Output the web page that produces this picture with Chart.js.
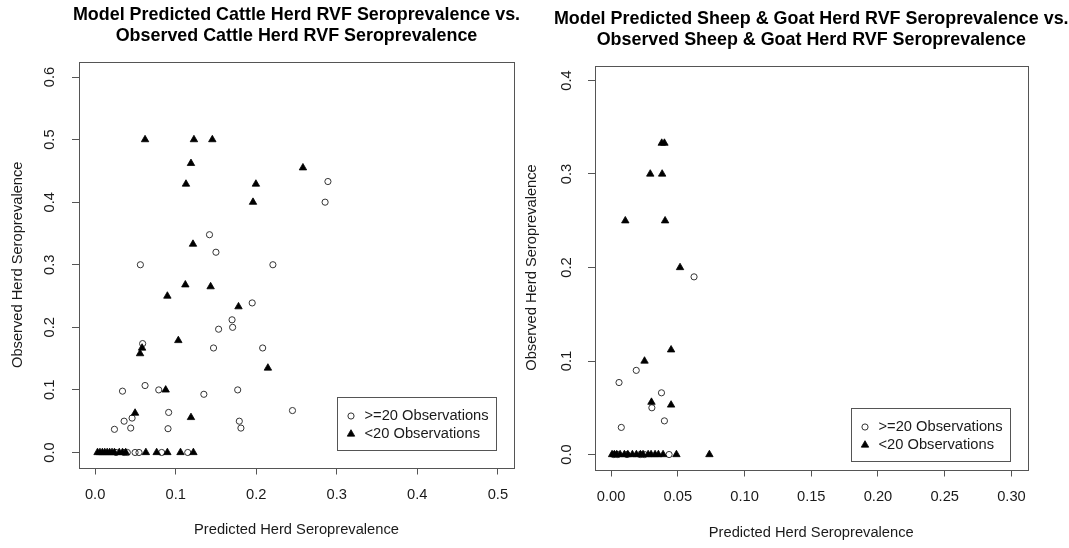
<!DOCTYPE html>
<html>
<head>
<meta charset="utf-8">
<title>RVF seroprevalence: predicted vs observed</title>
<script src="https://cdn.jsdelivr.net/npm/chart.js@4.4.1/dist/chart.umd.min.js"></script>
<style>
  body { margin: 0; background: #fff; }
  #wrap { position: relative; width: 1069px; height: 548px; }
  canvas { position: absolute; top: 0; }
</style>
</head>
<body>
<div id="wrap">
  <canvas id="cattle" width="525" height="548" style="left:0"></canvas>
  <canvas id="sheep" width="549" height="548" style="left:520px"></canvas>
</div>
<script>
// series labels
const seriesLabels = [">=20 Observations", "<20 Observations"];

// cattle herds, >=20 observations (open circles)
const cattleBigX = [0.289, 0.2855, 0.142, 0.150, 0.0562, 0.2207, 0.195, 0.170, 0.1707, 0.1533,
  0.059, 0.147, 0.208, 0.062, 0.034, 0.079, 0.135, 0.177, 0.245, 0.0913,
  0.0459, 0.036, 0.179, 0.0442, 0.0905, 0.181, 0.024,
  0.026, 0.036, 0.040, 0.0496, 0.0545, 0.0826, 0.115];
const cattleBigY = [0.433, 0.400, 0.348, 0.320, 0.300, 0.300, 0.239, 0.212, 0.200, 0.197,
  0.174, 0.167, 0.167, 0.107, 0.098, 0.100, 0.093, 0.100, 0.067, 0.064,
  0.055, 0.050, 0.050, 0.039, 0.038, 0.039, 0.037,
  0, 0, 0, 0, 0, 0, 0];

// cattle herds, <20 observations (filled triangles)
const cattleSmallX = [0.062, 0.1227, 0.1455, 0.119, 0.258, 0.1128, 0.1996, 0.196, 0.1215, 0.112,
  0.1434, 0.0897, 0.178, 0.1033, 0.0583, 0.0558, 0.0876, 0.0496, 0.119, 0.2145,
  0.003, 0.006, 0.009, 0.012, 0.015, 0.018, 0.021, 0.024, 0.030, 0.034,
  0.038, 0.063, 0.0764, 0.0897, 0.106, 0.122];
const cattleSmallY = [0.5, 0.5, 0.5, 0.462, 0.455, 0.429, 0.429, 0.4, 0.333, 0.268,
  0.265, 0.25, 0.233, 0.179, 0.167, 0.158, 0.1, 0.063, 0.056, 0.135,
  0, 0, 0, 0, 0, 0, 0, 0, 0, 0,
  0, 0, 0, 0, 0, 0];

// sheep & goat herds, >=20 observations
const sheepBigX = [0.0622, 0.006, 0.0189, 0.0378, 0.0306, 0.040, 0.0077, 0.0435,
  0.002, 0.005, 0.012, 0.022, 0.025];
const sheepBigY = [0.19, 0.077, 0.090, 0.066, 0.05, 0.036, 0.029, 0,
  0, 0, 0, 0, 0];

// sheep & goat herds, <20 observations
const sheepSmallX = [0.038, 0.040, 0.0294, 0.0383, 0.0107, 0.0405, 0.0517, 0.045, 0.0251, 0.0303,
  0.045, 0.0008, 0.0025, 0.0043, 0.0068, 0.010, 0.0126, 0.016, 0.019, 0.022,
  0.024, 0.0278, 0.030, 0.033, 0.0355, 0.039, 0.049, 0.0737];
const sheepSmallY = [0.333, 0.333, 0.3, 0.3, 0.25, 0.25, 0.2, 0.112, 0.1, 0.056,
  0.053, 0, 0, 0, 0, 0, 0, 0, 0, 0,
  0, 0, 0, 0, 0, 0, 0, 0];

// tick labels
const cattleTicksX = [0, 0.1, 0.2, 0.3, 0.4, 0.5];
const cattleTicksY = [0, 0.1, 0.2, 0.3, 0.4, 0.5, 0.6];
const sheepTicksX = [0, 0.05, 0.10, 0.15, 0.20, 0.25, 0.30];
const sheepTicksY = [0, 0.1, 0.2, 0.3, 0.4];

const FONT = "'Liberation Sans', Arial, sans-serif";
const INK = "#1a1a1a";
const FRAME = "#555";

// R-style main title (centred on the plot box), box round the plot region
// and a bottomright legend
const rBox = {
  id: "rBox",
  afterDatasetsDraw(chart, args, opts) {
    const { ctx, chartArea: a } = chart;
    ctx.save();

    ctx.fillStyle = "#000";
    ctx.font = "bold 17.9px " + FONT;
    ctx.textAlign = "center";
    ctx.textBaseline = "middle";
    opts.title.forEach((t, i) => {
      ctx.fillText(t, (a.left + a.right) / 2, opts.titleTop + i * 21);
    });

    ctx.strokeStyle = FRAME;
    ctx.lineWidth = 1;
    ctx.strokeRect(Math.round(a.left) + 0.5, Math.round(a.top) + 0.5,
      Math.round(a.right - a.left), Math.round(a.bottom - a.top));

    const x0 = Math.round(a.right - opts.insetRight - opts.width) + 0.5;
    const y0 = Math.round(a.bottom - opts.insetBottom - opts.height) + 0.5;
    ctx.strokeRect(x0, y0, opts.width, opts.height);
    ctx.font = "14.7px " + FONT;
    ctx.textAlign = "left";
    chart.data.datasets.forEach((ds, i) => {
      const y = y0 + opts.rows[i];
      ctx.fillStyle = ds.pointBackgroundColor;
      ctx.strokeStyle = ds.pointBorderColor;
      ctx.lineWidth = ds.pointBorderWidth;
      Chart.helpers.drawPoint(ctx, {
        pointStyle: ds.pointStyle, rotation: 0,
        radius: ds.pointRadius, borderWidth: ds.pointBorderWidth,
      }, x0 + 13.5, y);
      ctx.fillStyle = INK;
      ctx.fillText(ds.label, x0 + 27, y);
    });
    ctx.restore();
  },
};

function scatterPanel(id, p) {
  const pts = (xs, ys) => xs.map((x, i) => ({ x, y: ys[i] }));
  // R pads the axis range by 4% on each side
  const pad = (t) => {
    const d = (t[t.length - 1] - t[0]) * 0.04;
    return [t[0] - d, t[t.length - 1] + d];
  };
  const [xmin, xmax] = pad(p.xTicks);
  const [ymin, ymax] = pad(p.yTicks);
  const tickFont = { family: FONT, size: 14.7 };

  return new Chart(document.getElementById(id), {
    type: "scatter",
    data: {
      datasets: [
        {
          label: seriesLabels[0],
          data: pts(p.bigX, p.bigY),
          pointStyle: "circle",
          pointRadius: 3.1,
          pointHoverRadius: 3.1,
          pointBorderWidth: 1,
          pointBorderColor: "#333",
          pointBackgroundColor: "rgba(0,0,0,0)",
          order: 1,
        },
        {
          label: seriesLabels[1],
          data: pts(p.smallX, p.smallY),
          pointStyle: "triangle",
          pointRadius: 4.3,
          pointHoverRadius: 4.3,
          pointBorderWidth: 0.8,
          pointBorderColor: "#000",
          pointBackgroundColor: "#000",
          order: 0,
        },
      ],
    },
    options: {
      responsive: false,
      animation: false,
      events: [],
      layout: { padding: { left: 0, top: p.top, bottom: 0, right: p.padRight } },
      plugins: {
        legend: { display: false },
        tooltip: { enabled: false },
        title: { display: false },
        rBox: p.box,
      },
      scales: {
        x: {
          type: "linear",
          min: xmin,
          max: xmax,
          afterBuildTicks: (s) => { s.ticks = p.xTicks.map((v) => ({ value: v })); },
          afterFit: (s) => { s.height = p.xHeight; },
          border: { display: false },
          grid: { drawOnChartArea: false, tickLength: 7, color: FRAME, tickColor: FRAME },
          ticks: {
            font: tickFont, color: INK, padding: 12, maxRotation: 0, autoSkip: false,
            callback: (v) => v.toFixed(p.xDigits),
          },
          title: {
            display: true, text: "Predicted Herd Seroprevalence", color: INK,
            font: tickFont, padding: { top: 0, bottom: p.xTitlePad },
          },
        },
        y: {
          type: "linear",
          min: ymin,
          max: ymax,
          afterBuildTicks: (s) => { s.ticks = p.yTicks.map((v) => ({ value: v })); },
          afterFit: (s) => { s.width = p.yWidth; },
          border: { display: false },
          grid: { drawOnChartArea: false, tickLength: 7, color: FRAME, tickColor: FRAME },
          ticks: {
            font: tickFont, color: INK, padding: p.yTickPad, autoSkip: false,
            minRotation: 90, maxRotation: 90, crossAlign: "center",
            callback: (v) => v.toFixed(1),
          },
          title: {
            display: true, text: "Observed Herd Seroprevalence", color: INK,
            font: tickFont, padding: { top: p.yTitlePad, bottom: 0 },
          },
        },
      },
    },
    plugins: [rBox],
  });
}

scatterPanel("cattle", {
  bigX: cattleBigX, bigY: cattleBigY,
  smallX: cattleSmallX, smallY: cattleSmallY,
  xTicks: cattleTicksX, yTicks: cattleTicksY, xDigits: 1,
  top: 62, padRight: 11, yWidth: 79, xHeight: 80.5,
  yTickPad: 11.8, yTitlePad: 9.6, xTitlePad: 9.6,
  box: {
    title: ["Model Predicted Cattle Herd RVF Seroprevalence vs.",
      "Observed Cattle Herd RVF Seroprevalence"],
    titleTop: 15.5,
    width: 159, height: 53, insetRight: 18, insetBottom: 18, rows: [18.5, 36.5],
  },
});

scatterPanel("sheep", {
  bigX: sheepBigX, bigY: sheepBigY,
  smallX: sheepSmallX, smallY: sheepSmallY,
  xTicks: sheepTicksX, yTicks: sheepTicksY, xDigits: 2,
  top: 65.5, padRight: 41.5, yWidth: 75, xHeight: 78.5,
  yTickPad: 11.1, yTitlePad: 3.3, xTitlePad: 6.6,
  box: {
    title: ["Model Predicted Sheep & Goat Herd RVF Seroprevalence vs.",
      "Observed Sheep & Goat Herd RVF Seroprevalence"],
    titleTop: 19.5,
    width: 159, height: 53, insetRight: 18, insetBottom: 8.5, rows: [18.5, 36.5],
  },
});
</script>
</body>
</html>
